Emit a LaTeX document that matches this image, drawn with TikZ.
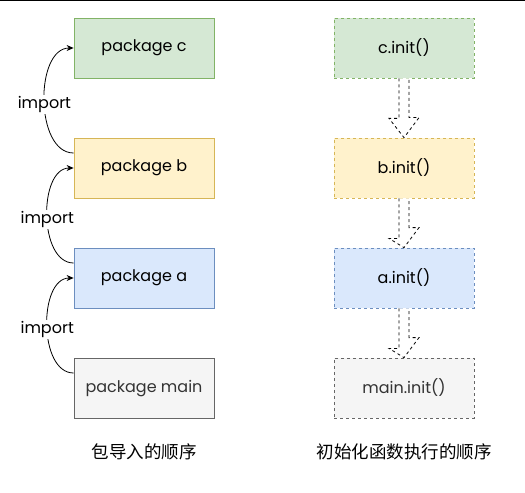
\documentclass[tikz,border=0pt]{standalone}
\usepackage{fontspec}
\setmainfont{Poppins}
\newfontfamily\cjk{Noto Sans CJK SC}
\usetikzlibrary{arrows.meta}
\definecolor{gF}{HTML}{D5E8D4}\definecolor{gS}{HTML}{82B366}
\definecolor{yF}{HTML}{FFF2CC}\definecolor{yS}{HTML}{D6B656}
\definecolor{bF}{HTML}{DAE8FC}\definecolor{bS}{HTML}{6C8EBF}
\definecolor{kF}{HTML}{F5F5F5}\definecolor{kS}{HTML}{666666}
\definecolor{kT}{HTML}{333333}
\tikzset{
  box/.style={draw, line width=0.8bp, minimum width=140bp, minimum height=60bp, inner sep=0pt, text depth=4bp, font=\fontsize{16bp}{18bp}\selectfont},
  dbox/.style={box, dashed, dash pattern=on 3bp off 3bp},
  imp/.style={-{Stealth[length=7bp,width=6bp]}, line width=0.8bp, out=180, in=180, looseness=0.95},
  lbl/.style={fill=white, inner sep=1bp, yshift=-4bp, font=\fontsize{16bp}{18bp}\selectfont},
  hollow/.style={draw=black, line width=0.8bp, dash pattern=on 3bp off 3bp, fill=white},
  captxt/.style={font=\cjk\fontsize{17.5bp}{20bp}\selectfont}
}
\begin{document}
\begin{tikzpicture}[x=1bp,y=-1bp]
\useasboundingbox (0,0) rectangle (525,493);
\draw[line width=1.5bp] (0,0.5) -- (525,0.5);
% left column
\node[box, draw=gS, fill=gF] (c) at (144,48) {package c};
\node[box, draw=yS, fill=yF] (b) at (144,168) {package b};
\node[box, draw=bS, fill=bF] (a) at (144,278) {package a};
\node[box, draw=kS, fill=kF, text=kT] (m) at (144,388) {package main};
\draw[imp] ([yshift=15bp]b.west) to node[lbl] {import} (c.west);
\draw[imp] ([yshift=15bp]a.west) to node[lbl] {import} (b.west);
\draw[imp] ([yshift=15bp]m.west) to node[lbl] {import} (a.west);
% right column
\node[dbox, draw=gS, fill=gF] (ci) at (404,48) {c.init()};
\node[dbox, draw=yS, fill=yF] (bi) at (404,168) {b.init()};
\node[dbox, draw=bS, fill=bF] (ai) at (404,278) {a.init()};
\node[dbox, draw=kS, fill=kF, text=kT] (mi) at (404,388) {main.init()};
\foreach \s/\t in {ci/bi, bi/ai, ai/mi}{
  \draw[hollow] ([xshift=-5bp]\s.south) -- ++(0,40) -- ++(-10,0) -- (\t.north) -- ++(15,-20) -- ++(-10,0) -- ([xshift=5bp]\s.south);
}
% captions
\node[captxt] (cl) at (144,452) {包导入的顺序};
\node[captxt] (cr) at (404,452) {初始化函数执行的顺序};
\end{tikzpicture}
\end{document}
